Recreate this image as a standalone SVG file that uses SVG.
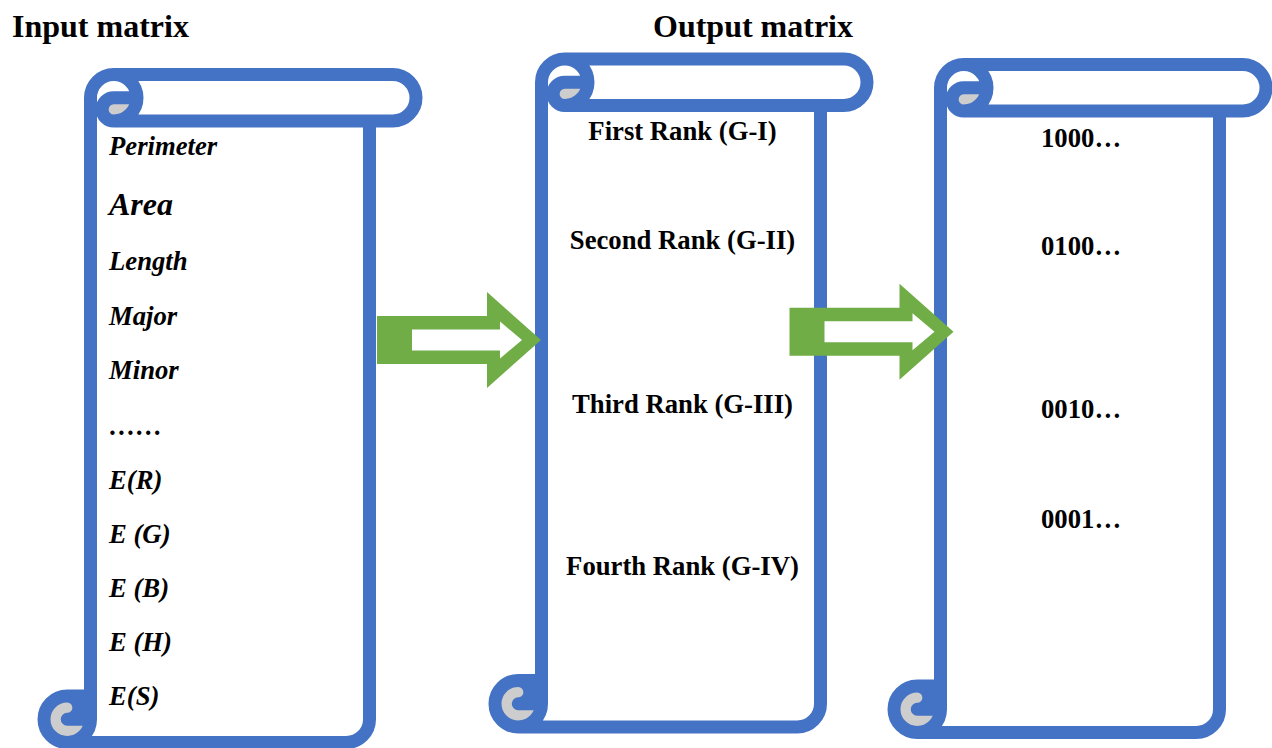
<svg xmlns="http://www.w3.org/2000/svg" xmlns:xlink="http://www.w3.org/1999/xlink" width="1272" height="748" viewBox="0 0 1272 748">
  <style>
    .scroll-fill { fill: #FFFFFF; stroke: none; }
    .scroll-curl { fill: #CDCDCD; stroke: none; }
    .scroll-line { fill: none; stroke: #4472C4; stroke-width: 13; stroke-linejoin: round; stroke-linecap: butt; }
    .arrow-body { fill: #70AD47; }
    .arrow-hole { fill: #FFFFFF; }
    .heading { font-family: "Liberation Serif", "Times New Roman", serif; font-weight: bold; font-size: 32px; fill: #000; }
    .feature { font-family: "Liberation Serif", "Times New Roman", serif; font-weight: bold; font-style: italic; font-size: 26.7px; fill: #000; }
    .label { font-family: "Liberation Serif", "Times New Roman", serif; font-weight: bold; font-size: 26.7px; fill: #000; }
  </style>
  <defs>
    <!-- vertical scroll, local box 372 x 668 -->
    <g id="scroll">
      <path class="scroll-fill" d="M46.5,621.5 L46.5,23.25 A23.25,23.25 0 0 1 69.75,0 L348.75,0 A23.25,23.25 0 0 1 348.75,46.5 L325.5,46.5 L325.5,644.75 A23.25,23.25 0 0 1 302.25,668 L23.25,668 A23.25,23.25 0 0 1 23.25,621.5 Z"/>
      <path class="scroll-curl" d="M93,23.25 A23.25,23.25 0 0 1 69.75,46.5 A11.625,11.625 0 0 1 69.75,23.25 Z M46.5,644.75 A23.25,23.25 0 1 1 23.25,621.5 A11.625,11.625 0 0 1 23.25,644.75 Z"/>
      <path class="scroll-line" d="M46.5,621.5 L46.5,23.25 A23.25,23.25 0 0 1 69.75,0 L348.75,0 A23.25,23.25 0 0 1 348.75,46.5 L325.5,46.5 L325.5,644.75 A23.25,23.25 0 0 1 302.25,668 L23.25,668 A23.25,23.25 0 0 1 23.25,621.5 Z M69.75,0 A23.25,23.25 0 0 1 69.75,46.5 A11.625,11.625 0 0 1 69.75,23.25 L93,23.25 M325.5,46.5 L69.75,46.5 M23.25,621.5 A11.625,11.625 0 0 1 23.25,644.75 L46.5,644.75 M23.25,668 A23.25,23.25 0 0 0 46.5,644.75 L46.5,621.5"/>
    </g>
    <!-- block arrow with hollow centre, origin at tail middle -->
    <g id="block-arrow">
      <polygon class="arrow-body" points="0,-24 110,-24 110,-48 164,0 110,48 110,24 0,24"/>
      <polygon class="arrow-hole" points="35,-10.5 123,-10.5 123,-18.5 145,0 123,18.5 123,10.5 35,10.5"/>
    </g>
  </defs>

  <rect x="0" y="0" width="1272" height="748" fill="#FFFFFF"/>

  <text class="heading" x="12" y="37">Input matrix</text>
  <text class="heading" x="653" y="37">Output matrix</text>

  <g id="input-matrix">
    <use xlink:href="#scroll" href="#scroll" transform="translate(44,74.5)"/>
    <text class="feature" x="109" y="155">Perimeter</text>
    <text class="feature" x="109" y="215" style="font-size:32px">Area</text>
    <text class="feature" x="109" y="270">Length</text>
    <text class="feature" x="109" y="325">Major</text>
    <text class="feature" x="109" y="379">Minor</text>
    <text class="feature" x="109" y="435">……</text>
    <text class="feature" x="109" y="489">E(R)</text>
    <text class="feature" x="109" y="543">E (G)</text>
    <text class="feature" x="109" y="597">E (B)</text>
    <text class="feature" x="109" y="651">E (H)</text>
    <text class="feature" x="109" y="705">E(S)</text>
  </g>

  <g id="output-ranks">
    <use xlink:href="#scroll" href="#scroll" transform="translate(495,59)"/>
    <text class="label" x="682.5" y="140" text-anchor="middle">First Rank (G-I)</text>
    <text class="label" x="682.5" y="249" text-anchor="middle">Second Rank (G-II)</text>
    <text class="label" x="682.5" y="413" text-anchor="middle">Third Rank (G-III)</text>
    <text class="label" x="682.5" y="575" text-anchor="middle">Fourth Rank (G-IV)</text>
  </g>

  <g id="output-codes">
    <use xlink:href="#scroll" href="#scroll" transform="translate(894,64.5)"/>
    <text class="label" x="1041" y="147">1000…</text>
    <text class="label" x="1041" y="255">0100…</text>
    <text class="label" x="1041" y="418">0010…</text>
    <text class="label" x="1041" y="528">0001…</text>
  </g>

  <g id="connectors">
    <use xlink:href="#block-arrow" href="#block-arrow" transform="translate(377,340)"/>
    <use xlink:href="#block-arrow" href="#block-arrow" transform="translate(789.5,331.7)"/>
  </g>
</svg>
